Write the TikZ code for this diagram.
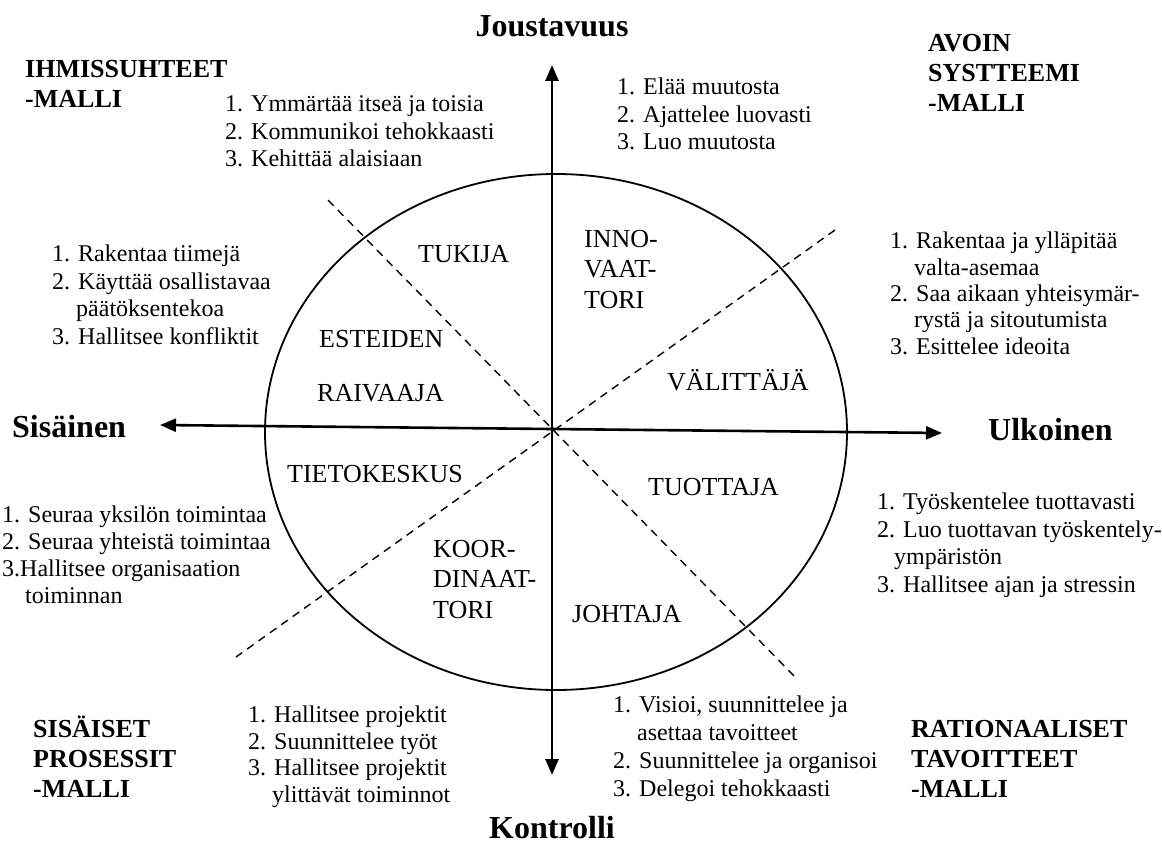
\documentclass[tikz,border=0pt]{standalone}
\usepackage{fontspec}
\setmainfont{Liberation Serif}
\usetikzlibrary{arrows.meta}

% Multi-line nodes are placed by the baseline of their last line.
\tikzset{
  axisline/.style={line width=2.6pt, {Triangle[length=16pt,width=13pt]}-{Triangle[length=16pt,width=13pt]}},
  ring/.style={line width=1.8pt},
  divider/.style={line width=1.4pt, dash pattern=on 8pt off 6pt},
  txt/.style={inner sep=0pt, anchor=base west, align=left},
  lst/.style={txt, font=\fontsize{24}{27.5}\selectfont},
  role/.style={txt, font=\fontsize{26}{30.5}\selectfont},
  model/.style={txt, font=\bfseries\fontsize{26}{30}\selectfont},
  pole/.style={inner sep=0pt, font=\bfseries\fontsize{32}{36}\selectfont}
}
\newcommand{\hang}{\phantom{1.\ }}

\begin{document}
\begin{tikzpicture}[x=1pt,y=-1pt]
\useasboundingbox (0,0) rectangle (1162,853);

% axis end points and centre
\coordinate (O)  at (552,429);
\coordinate (N)  at (552,65);
\coordinate (S)  at (552,775);
\coordinate (W)  at (160,425);
\coordinate (E)  at (942,433);

% ends of the two dashed dividers
\coordinate (nw) at (328,200);
\coordinate (se) at (797,679);
\coordinate (ne) at (835,230);
\coordinate (sw) at (236,657);

% the circle of roles
\draw[ring] (556,432) ellipse [x radius=291, y radius=258];

% dashed dividers
\draw[divider] (nw) -- (se);
\draw[divider] (ne) -- (sw);

% axes
\draw[axisline] (S) -- (N);
\draw[axisline] (W) -- (E);

% pole labels
\node[pole, anchor=base] (flex) at (552,37) {Joustavuus};
\node[pole, anchor=base] (ctrl) at (552,838) {Kontrolli};
\node[pole, anchor=base west] (inner) at (12,437) {Sisäinen};
\node[pole, anchor=base west] (outer) at (988,440) {Ulkoinen};

% model titles
\node[model] (hr)   at (25,108)  {IHMISSUHTEET\\-MALLI};
\node[model] (os)   at (928,112) {AVOIN\\SYSTTEEMI\\-MALLI};
\node[model] (ip)   at (33,797)  {SISÄISET\\PROSESSIT\\-MALLI};
\node[model] (rg)   at (911,797) {RATIONAALISET\\TAVOITTEET\\-MALLI};

% competence lists
\node[lst] (l1) at (225,167) {1. Ymmärtää itseä ja toisia\\2. Kommunikoi tehokkaasti\\3. Kehittää alaisiaan};
\node[lst] (l2) at (617,150) {1. Elää muutosta\\2. Ajattelee luovasti\\3. Luo muutosta};
\node[lst] (l3) at (52,344)  {1. Rakentaa tiimejä\\2. Käyttää osallistavaa\\\hang päätöksentekoa\\3. Hallitsee konfliktit};
\node[lst, font=\fontsize{24}{26.3}\selectfont] (l4) at (890,354) {1. Rakentaa ja ylläpitää\\\hang valta-asemaa\\2. Saa aikaan yhteisymär-\\\hang rystä ja sitoutumista\\3. Esittelee ideoita};
\node[lst, font=\fontsize{24}{27}\selectfont] (l5) at (2,603) {1. Seuraa yksilön toimintaa\\2. Seuraa yhteistä toimintaa\\3.Hallitsee organisaation\\\hspace{23pt}toiminnan};
\node[lst] (l6) at (877,592) {1. Työskentelee tuottavasti\\2. Luo tuottavan työskentely-\\\hspace{17pt}ympäristön\\3. Hallitsee ajan ja stressin};
\node[lst, font=\fontsize{24}{26.5}\selectfont] (l7) at (248,802) {1. Hallitsee projektit\\2. Suunnittelee työt\\3. Hallitsee projektit\\\hang ylittävät toiminnot};
\node[lst, font=\fontsize{24}{28}\selectfont] (l8) at (613,796) {1. Visioi, suunnittelee ja\\\hang asettaa tavoitteet\\2. Suunnittelee ja organisoi\\3. Delegoi tehokkaasti};

% roles inside the circle
\node[role] (tukija) at (418,262) {TUKIJA};
\node[role] (innov)  at (584,308) {INNO-\\VAAT-\\TORI};
\node[role] (esteid) at (319,347) {ESTEIDEN};
\node[role] (raiv)   at (317,401) {RAIVAAJA};
\node[role] (valit)  at (667,390) {VÄLITTÄJÄ};
\node[role] (tieto)  at (287,482) {TIETOKESKUS};
\node[role] (tuott)  at (648,495) {TUOTTAJA};
\node[role] (koord)  at (433,618) {KOOR-\\DINAAT-\\TORI};
\node[role] (johtaja) at (572,622) {JOHTAJA};
\end{tikzpicture}
\end{document}
